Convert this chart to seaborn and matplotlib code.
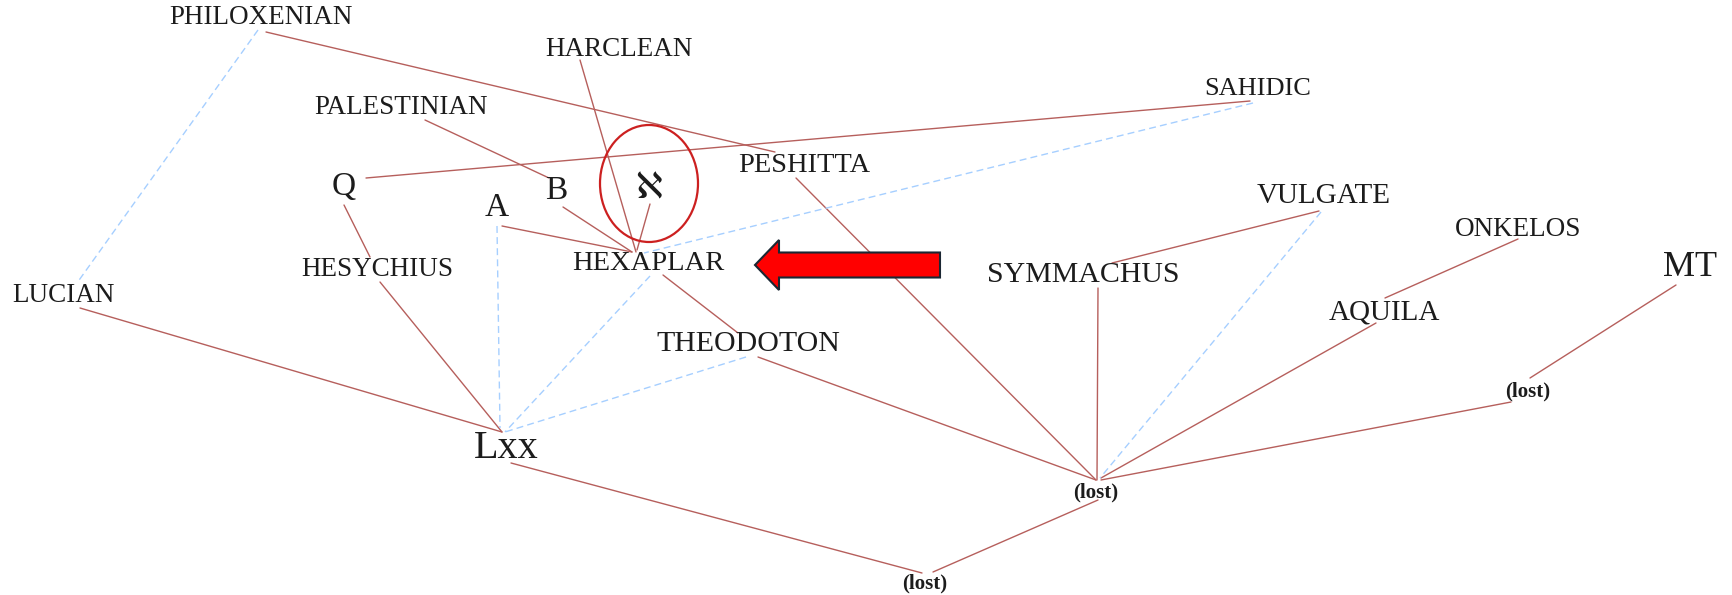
import pandas as pd
import matplotlib
matplotlib.use("Agg")
import matplotlib.pyplot as plt
import seaborn as sns
from matplotlib.patches import Ellipse

sns.set_theme(style="white")
plt.rcParams['font.family'] = ['Liberation Serif', 'DejaVu Serif', 'DejaVu Sans']

# node labels, positions in pixels of the original diagram (y grows downwards)
labels = ['PHILOXENIAN', 'HARCLEAN', 'PALESTINIAN', 'SAHIDIC', 'Q', 'A', 'B', 'ℵ',
          'PESHITTA', 'VULGATE', 'ONKELOS', 'HESYCHIUS', 'HEXAPLAR', 'SYMMACHUS',
          'LUCIAN', 'AQUILA', 'THEODOTON', 'MT', 'Lxx', '(lost)', '(lost)', '(lost)']
label_x = [261, 619, 401, 1258, 344, 497, 556, 649, 804, 1324, 1518, 377, 648, 1083,
           63, 1384, 748, 1690, 506, 1096, 1528, 925]
label_y = [17, 50, 107, 89, 187, 208, 191, 190, 165, 196, 229, 269, 263, 275,
           296, 312, 344, 268, 448, 492, 391, 583]
label_size = [19.5, 19.5, 19.5, 19, 24, 24, 24, 26, 20.5, 21, 19.5, 19.5, 20.5, 21.5,
              19.5, 21, 21.5, 26, 29, 15, 15, 15]
label_bold = [False] * 19 + [True, True, True]

# edges of the stemma: start / end points and kind
edge_x0 = [266, 580, 425, 563, 502, 650, 366, 344, 380, 80, 663, 758, 796, 1319, 1098,
           1518, 1376, 1676, 1511, 511, 933,
           258, 497, 1253, 650, 746, 1321]
edge_y0 = [32, 60, 120, 207, 226, 204, 178, 205, 282, 308, 275, 357, 178, 211, 288,
           239, 323, 285, 402, 463, 572,
           30, 226, 103, 276, 357, 212]
edge_x1 = [775, 636, 549, 632, 632, 637, 1250, 370, 502, 502, 738, 1096, 1096, 1112, 1097,
           1385, 1101, 1530, 1101, 922, 1098,
           77, 500, 644, 505, 505, 1100]
edge_y1 = [152, 252, 178, 252, 252, 250, 101, 257, 432, 432, 333, 480, 480, 263, 480,
           298, 478, 378, 480, 573, 500,
           283, 428, 253, 432, 432, 478]
edge_kind = ['solid'] * 21 + ['dashed'] * 6

# red circle round Sinaiticus and the pointer arrow
ring_center, ring_w, ring_h = (649, 183.5), 98, 117
arrow_tail, arrow_len = (940, 265), -185

rows = []
for i in range(len(edge_kind)):
    rows.append({'edge': i, 'x': edge_x0[i], 'y': edge_y0[i], 'kind': edge_kind[i]})
    rows.append({'edge': i, 'x': edge_x1[i], 'y': edge_y1[i], 'kind': edge_kind[i]})
edges = pd.DataFrame(rows)

fig = plt.figure(figsize=(17.33, 5.95), dpi=100)
ax = fig.add_axes([0, 0, 1, 1])

sns.lineplot(data=edges, x='x', y='y', units='edge', hue='kind', style='kind',
             estimator=None, sort=False, legend=False, linewidth=1.0, ax=ax,
             palette={'solid': '#b65f5c', 'dashed': '#a6cfff'},
             dashes={'solid': '', 'dashed': (5, 3)})

for lab, x, y, s, b in zip(labels, label_x, label_y, label_size, label_bold):
    ax.text(x, y, lab, ha='center', va='center', fontsize=s, color='#1c1c1c',
            fontweight='bold' if b else 'normal', zorder=5)

ax.add_patch(Ellipse(ring_center, ring_w, ring_h, fill=False, ec='#cc2020', lw=1.6, zorder=4))
ax.arrow(arrow_tail[0], arrow_tail[1], arrow_len, 0, width=25, head_width=50, head_length=24,
         length_includes_head=True, fc='#ff0000', ec='#1b2733', lw=1.5, zorder=6)

ax.set_xlim(0, 1733)
ax.set_ylim(595, 0)
ax.set_axis_off()
fig.savefig('out.png', dpi=100, facecolor='white')
